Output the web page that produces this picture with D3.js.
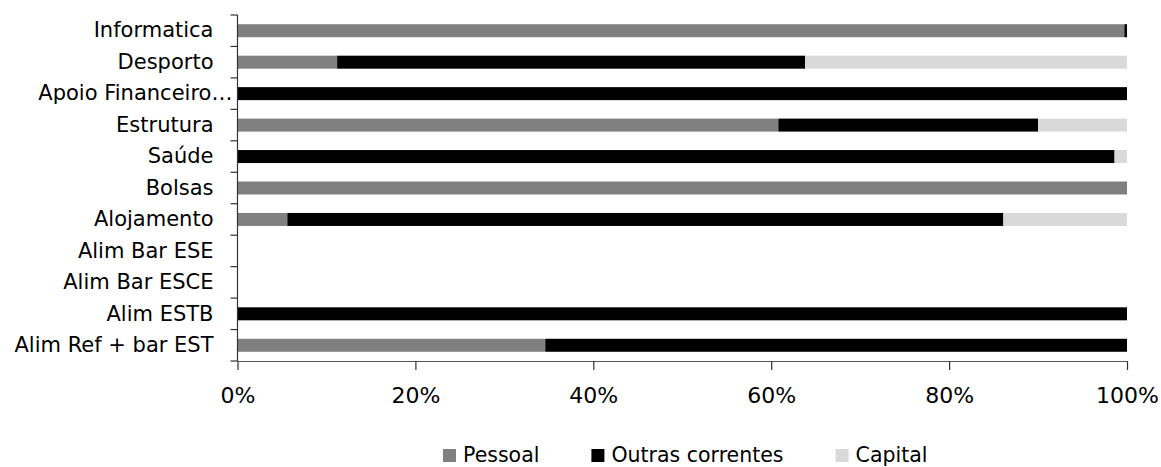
<!DOCTYPE html>
<html>
<head>
<meta charset="utf-8">
<script src="https://cdn.jsdelivr.net/npm/d3@7"></script>
<style>
  html, body { margin: 0; padding: 0; background: #fff; }
  svg { display: block; }
  text { font-family: "DejaVu Sans", Verdana, sans-serif; fill: #000; }
</style>
</head>
<body>
<svg id="chart" width="1161" height="467"></svg>
<script>
// ---- data ----
const categories = ["Informatica", "Desporto", "Apoio Financeiro…", "Estrutura", "Saúde", "Bolsas",
  "Alojamento", "Alim Bar ESE", "Alim Bar ESCE", "Alim ESTB", "Alim Ref + bar EST"];
const seriesNames = ["Pessoal", "Outras correntes", "Capital"];
const pessoal = [99.7, 11.2, 0, 60.8, 0, 100, 5.6, 0, 0, 0, 34.6];
const outras  = [0.3, 52.6, 100, 29.2, 98.6, 0, 80.5, 0, 0, 100, 65.4];
const capital = [0, 36.2, 0, 10.0, 1.4, 0, 13.9, 0, 0, 0, 0];
const xTicks = [0, 20, 40, 60, 80, 100];
const colors = ["#808080", "#000000", "#d9d9d9"];

// ---- layout ----
const mLeft = 237.5, mRight = 1127, mTop = 15, mBottom = 361;
const svg = d3.select("#chart");

const rows = categories.map((c, i) => ({ cat: c, Pessoal: pessoal[i], "Outras correntes": outras[i], Capital: capital[i] }));
const stack = d3.stack().keys(seriesNames)(rows);

const x = d3.scaleLinear().domain([0, 100]).range([mLeft, mRight]);
const y = d3.scaleBand().domain(categories).range([mTop, mBottom]).paddingInner(0.587).paddingOuter(0.2935);

// bars
svg.append("g").selectAll("g").data(stack).join("g")
  .attr("fill", (d, i) => colors[i])
  .selectAll("rect").data(d => d.map(v => ({ v, cat: v.data.cat })))
  .join("rect")
  .attr("x", d => x(d.v[0]))
  .attr("width", d => Math.max(0, x(d.v[1]) - x(d.v[0])))
  .attr("y", d => y(d.cat))
  .attr("height", y.bandwidth());

// y axis: line + boundary ticks
const yAxisG = svg.append("g");
yAxisG.append("line").attr("x1", mLeft).attr("x2", mLeft).attr("y1", mTop).attr("y2", mBottom)
  .attr("stroke", "#333").attr("stroke-width", 1.2);
const bounds = d3.range(categories.length + 1).map(i => mTop + i * y.step());
yAxisG.selectAll("line.tk").data(bounds).join("line").attr("class", "tk")
  .attr("x1", mLeft - 7).attr("x2", mLeft).attr("y1", d => d).attr("y2", d => d)
  .attr("stroke", "#333").attr("stroke-width", 1.2);

// y labels via axis
const yLab = svg.append("g").attr("transform", `translate(${mLeft},0)`)
  .call(d3.axisLeft(y).tickSize(0).tickPadding(24));
yLab.select(".domain").remove();
yLab.selectAll("text").attr("font-size", "21px").attr("font-family", "DejaVu Sans").attr("fill", "#000");
// truncated labels: the ellipsis hangs past the aligned edge
yLab.selectAll("text").each(function(d) {
  if (d.endsWith("…")) {
    const n = d.length;
    const w = this.getSubStringLength(n - 1, 1);
    d3.select(this).attr("dx", w * 0.9);
  }
});

// x axis
const xAxisG = svg.append("g").attr("transform", `translate(0,${mBottom})`)
  .call(d3.axisBottom(x).tickValues(xTicks).tickFormat(d => d + "%").tickSize(9).tickPadding(17));
xAxisG.select(".domain").attr("d", `M${mLeft},0.5H${mRight}`).attr("stroke", "#555").attr("stroke-width", 1.2);
xAxisG.selectAll(".tick line").attr("stroke", "#333").attr("stroke-width", 1.2);
xAxisG.selectAll("text").attr("font-size", "22px").attr("font-family", "DejaVu Sans").attr("fill", "#000");

// legend
const legend = svg.append("g");
let lx = 443;
seriesNames.forEach((name, i) => {
  const g = legend.append("g").attr("transform", `translate(${lx},0)`);
  g.append("rect").attr("x", 0).attr("y", 449).attr("width", 13).attr("height", 13).attr("fill", colors[i]);
  const t = g.append("text").attr("x", 20).attr("y", 462).attr("font-size", "20.5px").text(name);
  lx += 20 + t.node().getComputedTextLength() + 52;
});
</script>
</body>
</html>
